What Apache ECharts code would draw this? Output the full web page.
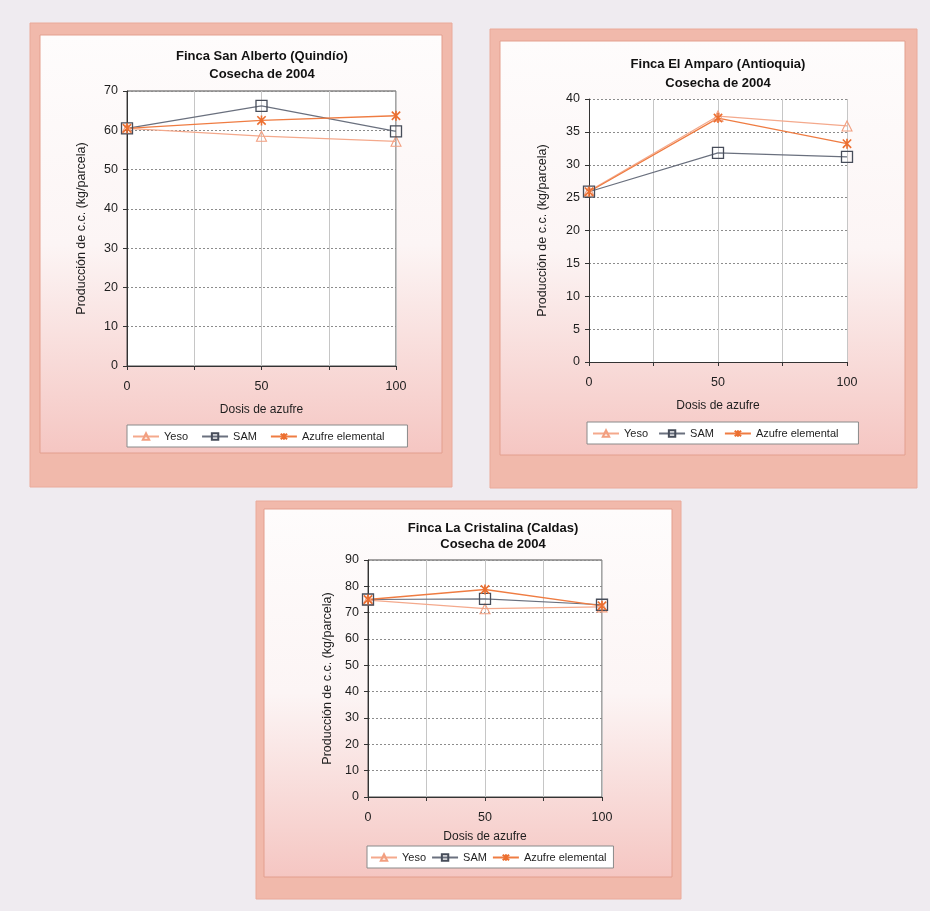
<!DOCTYPE html>
<html>
<head>
<meta charset="utf-8">
<script src="https://cdn.jsdelivr.net/npm/echarts@6/dist/echarts.min.js"></script>
<style>
  html, body { margin: 0; padding: 0; background: #efebf0; }
  #chart { width: 930px; height: 911px; }
</style>
</head>
<body>
<div id="chart"></div>
<script>
// Sulfur dose (x) and coffee yield per plot (y) for three farms, 2004 harvest
const doses = [0, 50, 100];
const xTickLabels = ['0', '50', '100'];
const seriesNames = ['Yeso', 'SAM', 'Azufre elemental'];

// Finca San Alberto (Quindío)
const sanAlbertoYeso = [60.5, 58.5, 57.2];
const sanAlbertoSam = [60.5, 66.2, 59.7];
const sanAlbertoAzufre = [60.5, 62.5, 63.7];

// Finca El Amparo (Antioquia)
const amparoYeso = [26.0, 37.4, 35.9];
const amparoSam = [25.9, 31.8, 31.2];
const amparoAzufre = [25.9, 37.1, 33.2];

// Finca La Cristalina (Caldas)
const cristalinaYeso = [74.8, 71.5, 72.2];
const cristalinaSam = [75.0, 75.2, 73.0];
const cristalinaAzufre = [75.0, 78.8, 72.6];

const titles = [
  'Finca San Alberto (Quindío)\nCosecha de 2004',
  'Finca El Amparo (Antioquia)\nCosecha de 2004',
  'Finca La Cristalina (Caldas)\nCosecha de 2004'
];
const yMaxes = [70, 40, 90];
const ySteps = [10, 5, 10];
const xAxisName = 'Dosis de azufre';
const yAxisName = 'Producción de c.c. (kg/parcela)';

const FONT = "'Liberation Sans', Arial, sans-serif";
const TEXT = '#1e1e1e';

// panel frames and plot placement
const layout = [
  { outer: [30, 23, 422, 464], inner: [40, 35, 402, 418],
    grid: { left: 127, top: 91, width: 269, height: 275 },
    title: [262, 46, 18], legend: { left: 127, top: 425, gap: 13, pad: [6, 23, 5, 5] },
    border: 1, gapX: 38, gapY: 39 },
  { outer: [490, 29, 427, 459], inner: [500, 41, 405, 414],
    grid: { left: 589, top: 99, width: 258, height: 263 },
    title: [718, 54, 19], legend: { left: 587, top: 422, gap: 10, pad: [6, 20, 5, 5] },
    border: 0, gapX: 38, gapY: 40 },
  { outer: [256, 501, 425, 398], inner: [264, 509, 408, 368],
    grid: { left: 368, top: 560, width: 234, height: 237 },
    title: [493, 519, 16], legend: { left: 367, top: 846, gap: 5, pad: [6, 7, 5, 3] },
    border: 1, gapX: 34, gapY: 34 }
];

const panelData = [
  [sanAlbertoYeso, sanAlbertoSam, sanAlbertoAzufre],
  [amparoYeso, amparoSam, amparoAzufre],
  [cristalinaYeso, cristalinaSam, cristalinaAzufre]
];

const asterisk = 'path://M0,0L10,10M10,0L0,10M5,-1L5,11';

const seriesStyle = [
  { symbol: 'triangle', symbolSize: 10,
    itemStyle: { color: 'rgba(255,255,255,0)', borderColor: '#f29f80', borderWidth: 1.1 },
    lineStyle: { color: '#f4a98c', width: 1.2 } },
  { symbol: 'rect', symbolSize: 11,
    itemStyle: { color: 'rgba(255,255,255,0)', borderColor: '#474d5a', borderWidth: 1.3 },
    lineStyle: { color: '#6a707e', width: 1.2 } },
  { symbol: asterisk, symbolSize: 10,
    itemStyle: { color: '#ec6f30', borderColor: '#ec6f30', borderWidth: 1.6 },
    lineStyle: { color: '#ef7c42', width: 1.3 } }
];

const graphics = [];
const grids = [], xAxes = [], yAxes = [], titleOpts = [], legends = [], series = [];

layout.forEach((p, i) => {
  graphics.push({
    type: 'rect', z: -20, silent: true,
    shape: { x: p.outer[0], y: p.outer[1], width: p.outer[2], height: p.outer[3] },
    style: { fill: '#f1b9ab', stroke: '#eaaa9a', lineWidth: 1 }
  });
  graphics.push({
    type: 'rect', z: -19, silent: true,
    shape: { x: p.inner[0], y: p.inner[1], width: p.inner[2], height: p.inner[3] },
    style: {
      fill: new echarts.graphic.LinearGradient(0, 0, 0, 1, [
        { offset: 0, color: '#fefcfc' },
        { offset: 0.5, color: '#fcf5f5' },
        { offset: 1, color: '#f5c6c2' }
      ]),
      stroke: '#e39f8e', lineWidth: 1
    }
  });

  grids.push({
    left: p.grid.left, top: p.grid.top, width: p.grid.width, height: p.grid.height,
    show: true, backgroundColor: '#ffffff',
    borderColor: '#4a4a4a', borderWidth: p.border
  });

  xAxes.push({
    gridIndex: i, type: 'value', min: 0, max: 100, interval: 25,
    name: xAxisName, nameLocation: 'middle', nameGap: p.gapX,
    nameTextStyle: { color: TEXT, fontSize: 12, fontFamily: FONT },
    axisLine: { show: true, onZero: false, lineStyle: { color: '#333', width: 1 } },
    axisTick: { show: true, length: 4, lineStyle: { color: '#333' } },
    axisLabel: {
      margin: 14, color: TEXT, fontSize: 12.5, fontFamily: FONT,
      formatter: v => (xTickLabels.includes(String(v)) ? String(v) : '')
    },
    splitLine: { show: true, lineStyle: { color: '#c6c6c6', width: 1 } }
  });

  yAxes.push({
    gridIndex: i, type: 'value', min: 0, max: yMaxes[i], interval: ySteps[i],
    name: yAxisName, nameLocation: 'middle', nameGap: p.gapY, nameRotate: 90,
    nameTextStyle: { color: TEXT, fontSize: 12.5, fontFamily: FONT },
    axisLine: { show: true, onZero: false, lineStyle: { color: '#333', width: 1 } },
    axisTick: { show: true, length: 4, lineStyle: { color: '#333' } },
    axisLabel: { margin: 9, color: TEXT, fontSize: 12.5, fontFamily: FONT },
    splitLine: { show: true, lineStyle: { color: '#8c8c8c', width: 1, type: [2, 2] } }
  });

  titleOpts.push({
    text: titles[i], left: p.title[0], top: p.title[1] + 1, textAlign: 'center', padding: 0,
    textStyle: { color: '#111', fontSize: 13, fontWeight: 'bold', fontFamily: FONT, lineHeight: p.title[2] }
  });

  legends.push({
    data: seriesNames, left: p.legend.left, top: p.legend.top, orient: 'horizontal',
    itemWidth: 26, itemHeight: 8, itemGap: p.legend.gap, padding: p.legend.pad,
    backgroundColor: '#ffffff', borderColor: '#8a8a8a', borderWidth: 1,
    selectedMode: false,
    textStyle: { color: TEXT, fontSize: 11, fontFamily: FONT }
  });

  panelData[i].forEach((vals, k) => {
    series.push(Object.assign({
      name: seriesNames[k], type: 'line', xAxisIndex: i, yAxisIndex: i,
      data: doses.map((d, j) => [d, vals[j]]),
      showSymbol: true, symbolKeepAspect: true,
      emphasis: { disabled: true }, animation: false
    }, JSON.parse(JSON.stringify(seriesStyle[k]))));
  });
});

const chart = echarts.init(document.getElementById('chart'), null, { renderer: 'canvas' });
chart.setOption({
  backgroundColor: '#efebf0',
  animation: false,
  graphic: graphics,
  title: titleOpts,
  legend: legends,
  grid: grids,
  xAxis: xAxes,
  yAxis: yAxes,
  series: series
});
</script>
</body>
</html>
